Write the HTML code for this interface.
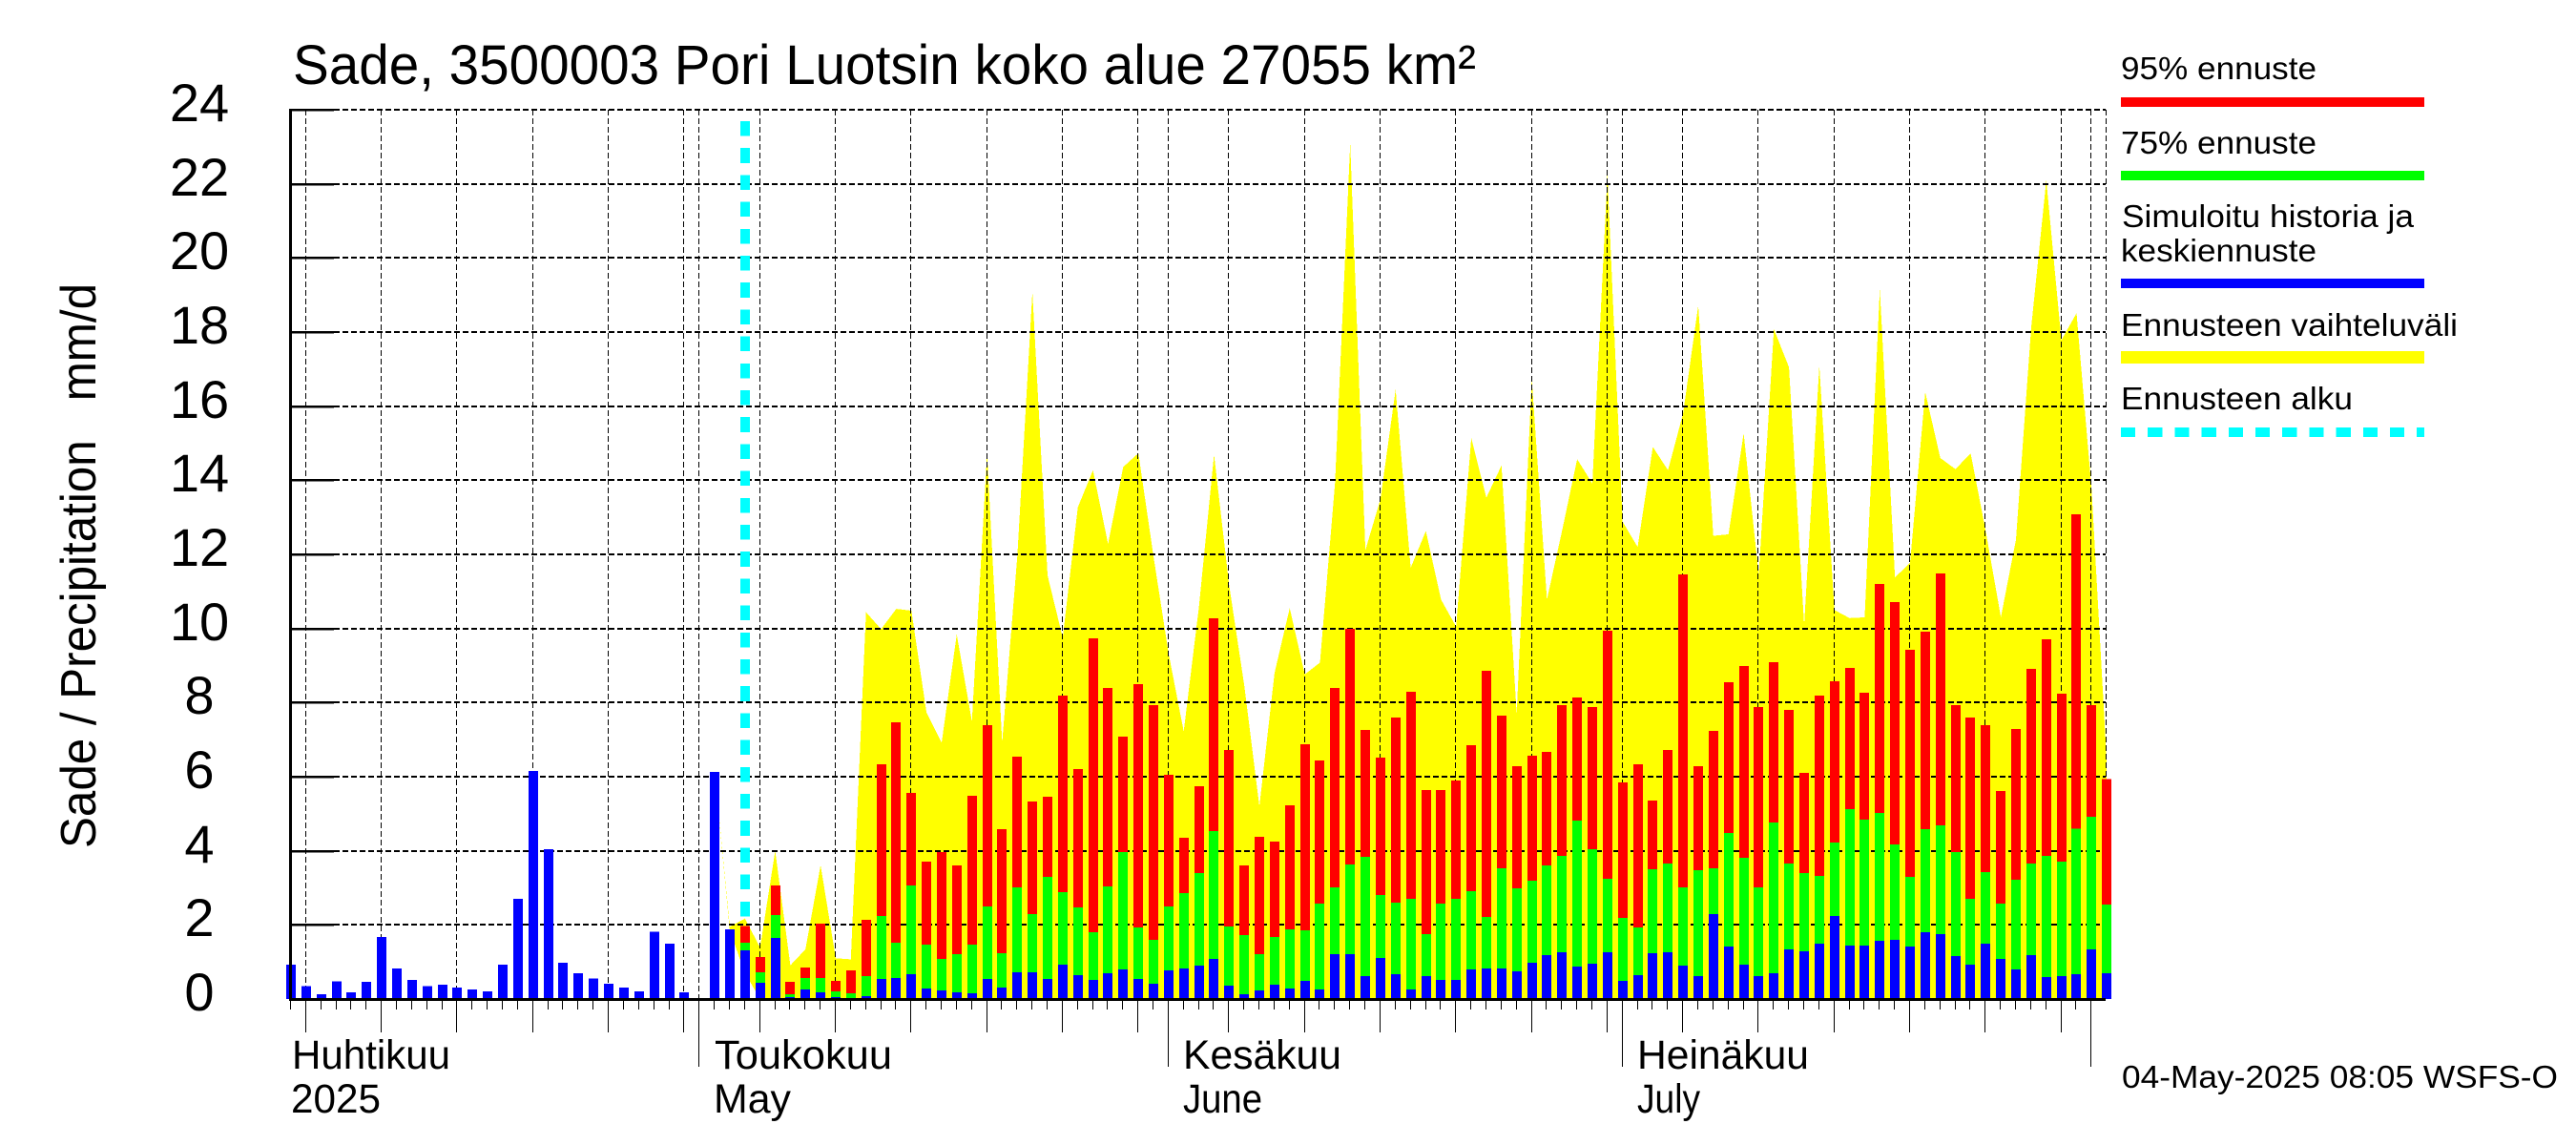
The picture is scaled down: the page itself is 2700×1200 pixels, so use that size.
<!DOCTYPE html>
<html lang="fi">
<head>
<meta charset="utf-8">
<title>Sade, 3500003 Pori Luotsin koko alue</title>
<style>
html,body{margin:0;padding:0;background:#fff;}
svg{display:block;}
text{font-family:"Liberation Sans",Arial,sans-serif;fill:#000;}
</style>
</head>
<body>
<svg id="chart" xmlns="http://www.w3.org/2000/svg" width="2700" height="1200" viewBox="0 0 2700 1200">
  <rect x="0" y="0" width="2700" height="1200" fill="#ffffff"/>
  <g id="envelope-layer"></g>
  <g id="grid-layer"></g>
  <g id="start-layer"></g>
  <g id="bar-layer"></g>
  <g id="axis-layer"></g>

  <text x="307" y="88" font-size="58" textLength="1240" lengthAdjust="spacingAndGlyphs">Sade, 3500003 Pori Luotsin koko alue 27055 km²</text>
  <text transform="translate(100,889) rotate(-90)" font-size="52" xml:space="preserve" style="white-space:pre" textLength="592" lengthAdjust="spacingAndGlyphs">Sade / Precipitation   mm/d</text>

  <text x="306" y="1120" font-size="43" textLength="166" lengthAdjust="spacingAndGlyphs">Huhtikuu</text>
  <text x="305" y="1166" font-size="43" textLength="94" lengthAdjust="spacingAndGlyphs">2025</text>
  <text x="749" y="1120" font-size="43" textLength="186" lengthAdjust="spacingAndGlyphs">Toukokuu</text>
  <text x="748" y="1166" font-size="43" textLength="81" lengthAdjust="spacingAndGlyphs">May</text>
  <text x="1240" y="1120" font-size="43" textLength="166" lengthAdjust="spacingAndGlyphs">Kesäkuu</text>
  <text x="1240" y="1166" font-size="43" textLength="83" lengthAdjust="spacingAndGlyphs">June</text>
  <text x="1716" y="1120" font-size="43" textLength="180" lengthAdjust="spacingAndGlyphs">Heinäkuu</text>
  <text x="1716" y="1166" font-size="43" textLength="66" lengthAdjust="spacingAndGlyphs">July</text>

  <text x="2224" y="1140" font-size="33" textLength="457" lengthAdjust="spacingAndGlyphs">04-May-2025 08:05 WSFS-O</text>

  <g>
    <text x="2223" y="83" font-size="33" textLength="205" lengthAdjust="spacingAndGlyphs">95% ennuste</text>
    <rect x="2223" y="102" width="318" height="10" fill="#ff0000" shape-rendering="crispEdges"/>
    <text x="2223" y="161" font-size="33" textLength="205" lengthAdjust="spacingAndGlyphs">75% ennuste</text>
    <rect x="2223" y="179" width="318" height="10" fill="#00ff00" shape-rendering="crispEdges"/>
    <text x="2224" y="238" font-size="33" textLength="306" lengthAdjust="spacingAndGlyphs">Simuloitu historia ja</text>
    <text x="2223" y="274" font-size="33" textLength="205" lengthAdjust="spacingAndGlyphs">keskiennuste</text>
    <rect x="2223" y="292" width="318" height="10" fill="#0000ff" shape-rendering="crispEdges"/>
    <text x="2223" y="352" font-size="33" textLength="353" lengthAdjust="spacingAndGlyphs">Ennusteen vaihteluväli</text>
    <rect x="2223" y="368" width="318" height="13" fill="#ffff00" shape-rendering="crispEdges"/>
    <text x="2223" y="429" font-size="33" textLength="243" lengthAdjust="spacingAndGlyphs">Ennusteen alku</text>
    <line x1="2223" y1="453" x2="2541" y2="453" stroke="#00ffff" stroke-width="10" stroke-dasharray="15.2 13" shape-rendering="crispEdges"/>
  </g>
</svg>

<script>
// Chart data (mm/d). Index 0 is 4 April 2025.
const yTickLabels = [0, 2, 4, 6, 8, 10, 12, 14, 16, 18, 20, 22, 24];
const dayCount = 120;
const gridDayIndexes = [1, 6, 11, 16, 21, 26, 27, 31, 36, 41, 46, 51, 56, 58, 62, 67, 72, 77, 82, 87, 88, 92, 97, 102, 107, 112, 117, 119, 120];
const monthStartIndexes = [27, 58, 88, 119];
const forecastStartIndex = 30;
const envelopeStartIndex = 28;

const meanValues = [
  0.93, 0.35, 0.13, 0.48, 0.18, 0.46, 1.68, 0.82, 0.51, 0.35,
  0.38, 0.31, 0.26, 0.21, 0.93, 2.70, 6.15, 4.04, 0.98, 0.69,
  0.56, 0.41, 0.31, 0.21, 1.82, 1.49, 0.18, 0.03, 6.13, 1.88,
  1.31, 0.44, 1.65, 0.05, 0.26, 0.18, 0.05, 0.00, 0.08, 0.54,
  0.57, 0.67, 0.28, 0.23, 0.18, 0.15, 0.54, 0.31, 0.72, 0.72,
  0.54, 0.93, 0.64, 0.52, 0.70, 0.80, 0.54, 0.41, 0.77, 0.82,
  0.90, 1.08, 0.36, 0.13, 0.23, 0.39, 0.28, 0.49, 0.26, 1.21,
  1.21, 0.62, 1.11, 0.67, 0.26, 0.62, 0.52, 0.52, 0.80, 0.82,
  0.82, 0.75, 0.98, 1.18, 1.26, 0.88, 0.95, 1.26, 0.49, 0.64,
  1.24, 1.26, 0.90, 0.62, 2.29, 1.42, 0.93, 0.62, 0.70, 1.34,
  1.29, 1.49, 2.24, 1.44, 1.44, 1.57, 1.60, 1.42, 1.80, 1.75,
  1.16, 0.93, 1.49, 1.08, 0.80, 1.18, 0.59, 0.62, 0.67, 1.34,
  0.70
];

const p75Values = [
  1.52, 0.72, 2.26, 0.13, 0.57, 0.57, 0.21, 0.15, 0.62, 2.24,
  1.52, 3.06, 1.47, 1.08, 1.21, 1.47, 2.50, 1.24, 3.01, 2.29,
  3.30, 2.88, 2.47, 1.80, 3.04, 3.97, 1.93, 1.60, 2.50, 2.86,
  3.40, 4.53, 1.96, 1.73, 1.21, 1.67, 1.88, 1.85, 2.58, 3.01,
  3.63, 3.84, 2.81, 2.60, 2.70, 1.75, 2.58, 2.70, 2.91, 2.21,
  3.53, 2.99, 3.19, 3.61, 3.86, 4.82, 4.04, 3.24, 2.19, 1.93,
  3.50, 3.66, 3.01, 3.48, 3.53, 4.48, 3.81, 3.01, 4.76, 3.66,
  3.40, 3.32, 4.22, 5.12, 4.84, 5.02, 4.17, 3.30, 4.58, 4.69,
  3.96, 2.70, 3.43, 2.58, 3.22, 3.66, 3.86, 3.71, 4.60, 4.92,
  2.55
];

const p95Values = [
  1.97, 1.13, 3.06, 0.46, 0.85, 2.03, 0.49, 0.77, 2.14, 6.33,
  7.47, 5.56, 3.71, 3.97, 3.60, 5.48, 7.39, 4.58, 6.54, 5.33,
  5.46, 8.19, 6.21, 9.73, 8.39, 7.08, 8.50, 7.93, 6.05, 4.35,
  5.74, 10.27, 6.72, 3.60, 4.38, 4.25, 5.23, 6.88, 6.44, 8.39,
  9.99, 7.26, 6.52, 7.60, 8.29, 5.64, 5.64, 5.90, 6.85, 8.86,
  7.65, 6.28, 6.57, 6.67, 7.93, 8.14, 7.88, 9.94, 5.85, 6.33,
  5.36, 6.72, 11.46, 6.28, 7.24, 8.55, 8.99, 7.88, 9.09, 7.80,
  6.10, 8.19, 8.58, 8.94, 8.27, 11.20, 10.71, 9.42, 9.91, 11.49,
  7.93, 7.60, 7.39, 5.61, 7.29, 8.91, 9.71, 8.24, 13.08, 7.93,
  5.93
];

const envelopeUpper = [
  6.13, 1.95, 2.17, 1.39, 4.00, 0.91, 1.34, 3.61, 1.10, 1.07,
  10.44, 9.98, 10.53, 10.48, 7.73, 6.92, 9.84, 7.49, 14.73, 6.92,
  11.95, 19.09, 11.43, 9.75, 13.27, 14.27, 12.28, 14.36, 14.73, 11.95,
  9.32, 7.22, 10.57, 14.69, 11.17, 8.46, 5.20, 8.80, 10.55, 8.76,
  9.08, 13.93, 23.08, 12.11, 13.49, 16.45, 11.64, 12.63, 10.78, 10.05,
  15.14, 13.53, 14.40, 7.70, 16.75, 10.78, 12.63, 14.57, 13.91, 22.25,
  12.88, 12.20, 14.90, 14.27, 15.80, 18.72, 12.50, 12.54, 15.27, 11.45,
  18.08, 17.05, 10.09, 17.10, 10.50, 10.28, 10.30, 19.16, 11.38, 11.77,
  16.38, 14.60, 14.30, 14.73, 12.63, 10.30, 12.40, 18.10, 22.10, 17.78,
  18.51, 13.75, 6.40
];

const envelopeLower = [
  6.13, 1.85, 0.70, 0, 0, 0, 0, 0, 0, 0,
  0, 0, 0, 0, 0, 0, 0, 0, 0, 0,
  0, 0, 0, 0, 0, 0, 0, 0, 0, 0,
  0, 0, 0, 0, 0, 0, 0, 0, 0, 0,
  0, 0, 0, 0, 0, 0, 0, 0, 0, 0,
  0, 0, 0, 0, 0, 0, 0, 0, 0, 0,
  0, 0, 0, 0, 0, 0, 0, 0, 0, 0,
  0, 0, 0, 0, 0, 0, 0, 0, 0, 0,
  0, 0, 0, 0, 0, 0, 0, 0, 0, 0,
  0, 0, 0
];

const SVG_NS = 'http://www.w3.org/2000/svg';
const plot = { left: 305, right: 2208.2, top: 115, bottom: 1047 };
const yMax = 24;
const barWidth = 10;

function xScale(i) {
  return plot.left + (plot.right - plot.left) * i / dayCount;
}
function yScale(v) {
  return plot.bottom - (plot.bottom - plot.top) * v / yMax;
}
function make(tag, attrs, parent) {
  const node = document.createElementNS(SVG_NS, tag);
  for (const key in attrs) node.setAttribute(key, attrs[key]);
  parent.appendChild(node);
  return node;
}

const envelopeLayer = document.getElementById('envelope-layer');
const gridLayer = document.getElementById('grid-layer');
const startLayer = document.getElementById('start-layer');
const barLayer = document.getElementById('bar-layer');
const axisLayer = document.getElementById('axis-layer');

// Forecast range polygon
const upperPoints = envelopeUpper.map(function (v, k) {
  return xScale(envelopeStartIndex + k).toFixed(1) + ',' + yScale(v).toFixed(1);
});
const lowerPoints = envelopeLower.map(function (v, k) {
  return xScale(envelopeStartIndex + k).toFixed(1) + ',' + yScale(v).toFixed(1);
}).reverse();
const envelopePoly = make('polygon', { points: upperPoints.concat(lowerPoints).join(' '), fill: '#ffff00', 'shape-rendering': 'crispEdges' }, envelopeLayer);



// Horizontal grid lines
yTickLabels.forEach(function (v) {
  if (v === 0) return;
  const py = Math.round(yScale(v));
  const line = make('line', { x1: 350, y1: py, x2: Math.round(xScale(dayCount)) - 1, y2: py, stroke: '#000', 'stroke-width': 2, 'stroke-dasharray': '6 3', 'shape-rendering': 'crispEdges' }, gridLayer);
  
  
});

// Vertical grid lines
gridDayIndexes.forEach(function (i) {
  const px = Math.round(xScale(i)) - 0.5;
  const line = make('line', { x1: px, y1: plot.top, x2: px, y2: plot.bottom, stroke: '#000', 'stroke-width': 1, 'stroke-dasharray': '6 3', 'shape-rendering': 'crispEdges' }, gridLayer);
  
  
});

// Forecast start marker
const startLine = make('line', { x1: xScale(forecastStartIndex), y1: 127, x2: xScale(forecastStartIndex), y2: plot.bottom, stroke: '#00ffff', 'stroke-width': barWidth, 'stroke-dasharray': '15.6 12.6', 'shape-rendering': 'crispEdges' }, startLayer);



// Bars
function drawBar(i, value, color) {
  const top = yScale(value);
  const rect = make('rect', { x: Math.round(xScale(i) - barWidth / 2), y: top.toFixed(1), width: barWidth, height: Math.max(0, plot.bottom - top).toFixed(1), fill: color, 'shape-rendering': 'crispEdges' }, barLayer);
  return rect;
}
p95Values.forEach(function (v, k) {
  const bar = drawBar(forecastStartIndex + k, v, '#ff0000');
  
  
});
p75Values.forEach(function (v, k) {
  const bar = drawBar(forecastStartIndex + k, v, '#00ff00');
  
  
});
meanValues.forEach(function (v, i) {
  const bar = drawBar(i, v, '#0000ff');
  
  
});

// Axes
const yAxisLine = make('rect', { x: plot.left - 2, y: plot.top - 1, width: 3, height: plot.bottom - plot.top + 2, fill: '#000', 'shape-rendering': 'crispEdges' }, axisLayer);



const xAxisLine = make('rect', { x: plot.left - 2, y: plot.bottom - 1, width: Math.round(xScale(dayCount)) - plot.left + 1, height: 3, fill: '#000', 'shape-rendering': 'crispEdges' }, axisLayer);



yTickLabels.forEach(function (v) {
  const py = Math.round(yScale(v));
  const tick = make('rect', { x: plot.left, y: py - 1, width: 45, height: 2.5, fill: '#000', 'shape-rendering': 'crispEdges' }, axisLayer);
  
  
  const label = make('text', { x: 209, y: py + 12, 'font-size': 56, 'text-anchor': 'middle' }, axisLayer);
  label.textContent = String(v);
  
  
});

for (let i = 0; i < dayCount; i++) {
  let end = 1058;
  if (gridDayIndexes.indexOf(i) >= 0) end = 1082;
  if (monthStartIndexes.indexOf(i) >= 0) end = 1118;
  const px = Math.round(xScale(i)) - 0.5;
  const tick = make('line', { x1: px, y1: plot.bottom, x2: px, y2: end, stroke: '#000', 'stroke-width': 1, 'shape-rendering': 'crispEdges' }, axisLayer);
  
  
}
</script>
</body>
</html>
